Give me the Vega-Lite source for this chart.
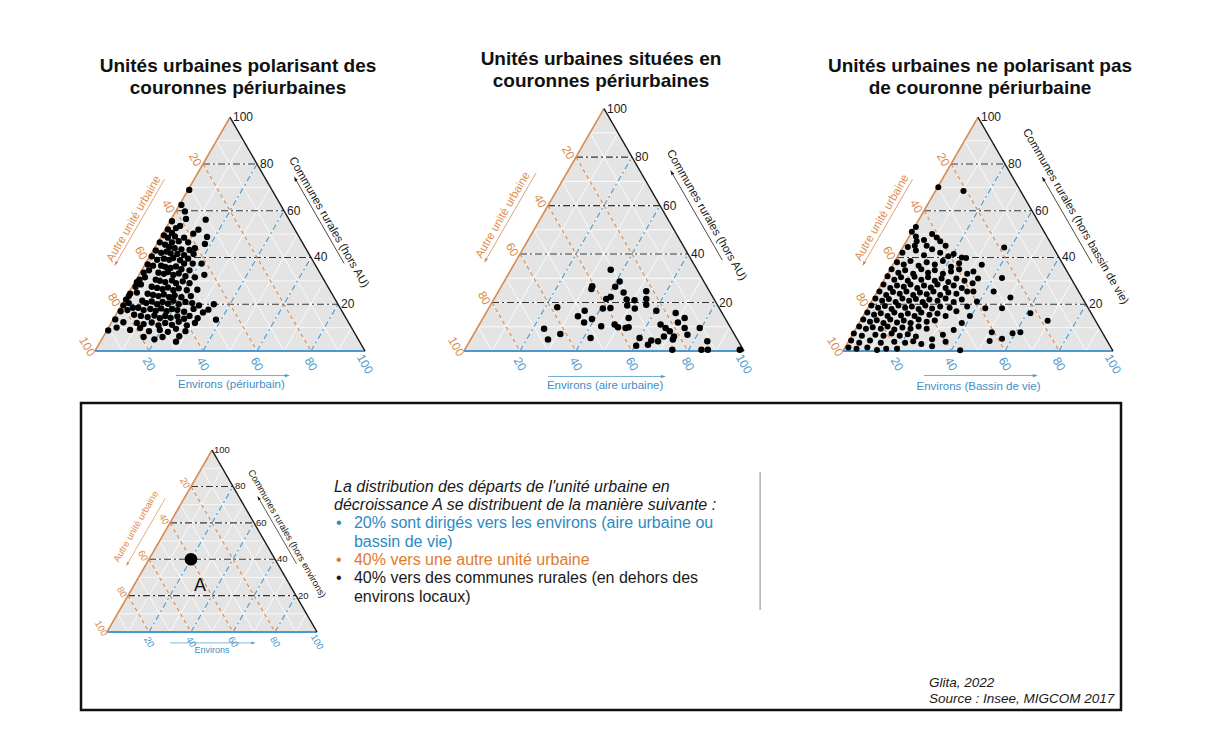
{
  "$schema": "https://vega.github.io/schema/vega-lite/v6.json",
  "background": "white",
  "autosize": {"type": "pad"},
  "padding": {"left": 77, "top": 49, "right": 5, "bottom": 5},
  "config": {
    "font": "Liberation Sans",
    "view": {"stroke": null},
    "axis": {"disable": true},
    "legend": {"disable": true},
    "title": {"fontSize": 19, "fontWeight": "bold", "color": "#111111", "anchor": "middle", "frame": "group", "lineHeight": 22, "offset": 12}
  },
  "datasets": {
    "tri": [{"x": 0, "y": 0}, {"x": 50, "y": 100}, {"x": 100, "y": 0}],
    "lines": [
      {"k": "sub", "x": 5, "y": 10, "x2": 95, "y2": 10},
      {"k": "sub", "x": 10, "y": 20, "x2": 90, "y2": 20},
      {"k": "sub", "x": 15, "y": 30, "x2": 85, "y2": 30},
      {"k": "sub", "x": 20, "y": 40, "x2": 80, "y2": 40},
      {"k": "sub", "x": 25, "y": 50, "x2": 75, "y2": 50},
      {"k": "sub", "x": 30, "y": 60, "x2": 70, "y2": 60},
      {"k": "sub", "x": 35, "y": 70, "x2": 65, "y2": 70},
      {"k": "sub", "x": 40, "y": 80, "x2": 60, "y2": 80},
      {"k": "sub", "x": 45, "y": 90, "x2": 55, "y2": 90},
      {"k": "sub", "x": 5, "y": 10, "x2": 10, "y2": 0},
      {"k": "sub", "x": 10, "y": 20, "x2": 20, "y2": 0},
      {"k": "sub", "x": 15, "y": 30, "x2": 30, "y2": 0},
      {"k": "sub", "x": 20, "y": 40, "x2": 40, "y2": 0},
      {"k": "sub", "x": 25, "y": 50, "x2": 50, "y2": 0},
      {"k": "sub", "x": 30, "y": 60, "x2": 60, "y2": 0},
      {"k": "sub", "x": 35, "y": 70, "x2": 70, "y2": 0},
      {"k": "sub", "x": 40, "y": 80, "x2": 80, "y2": 0},
      {"k": "sub", "x": 45, "y": 90, "x2": 90, "y2": 0},
      {"k": "sub", "x": 10, "y": 0, "x2": 55, "y2": 90},
      {"k": "sub", "x": 20, "y": 0, "x2": 60, "y2": 80},
      {"k": "sub", "x": 30, "y": 0, "x2": 65, "y2": 70},
      {"k": "sub", "x": 40, "y": 0, "x2": 70, "y2": 60},
      {"k": "sub", "x": 50, "y": 0, "x2": 75, "y2": 50},
      {"k": "sub", "x": 60, "y": 0, "x2": 80, "y2": 40},
      {"k": "sub", "x": 70, "y": 0, "x2": 85, "y2": 30},
      {"k": "sub", "x": 80, "y": 0, "x2": 90, "y2": 20},
      {"k": "sub", "x": 90, "y": 0, "x2": 95, "y2": 10},
      {"k": "r", "x": 10, "y": 20, "x2": 90, "y2": 20},
      {"k": "r", "x": 20, "y": 40, "x2": 80, "y2": 40},
      {"k": "r", "x": 30, "y": 60, "x2": 70, "y2": 60},
      {"k": "r", "x": 40, "y": 80, "x2": 60, "y2": 80},
      {"k": "a", "x": 40, "y": 80, "x2": 80, "y2": 0},
      {"k": "a", "x": 30, "y": 60, "x2": 60, "y2": 0},
      {"k": "a", "x": 20, "y": 40, "x2": 40, "y2": 0},
      {"k": "a", "x": 10, "y": 20, "x2": 20, "y2": 0},
      {"k": "e", "x": 20, "y": 0, "x2": 60, "y2": 80},
      {"k": "e", "x": 40, "y": 0, "x2": 70, "y2": 60},
      {"k": "e", "x": 60, "y": 0, "x2": 80, "y2": 40},
      {"k": "e", "x": 80, "y": 0, "x2": 90, "y2": 20},
      {"k": "L", "x": 0, "y": 0, "x2": 50, "y2": 100},
      {"k": "B", "x": 0, "y": 0, "x2": 100, "y2": 0},
      {"k": "R", "x": 50, "y": 100, "x2": 100, "y2": 0}
    ],
    "ticks": [
      {"k": "R", "x": 50, "y": 100, "t": "100"},
      {"k": "R", "x": 60, "y": 80, "t": "80"},
      {"k": "R", "x": 70, "y": 60, "t": "60"},
      {"k": "R", "x": 80, "y": 40, "t": "40"},
      {"k": "R", "x": 90, "y": 20, "t": "20"},
      {"k": "L", "x": 40, "y": 80, "t": "20"},
      {"k": "L", "x": 30, "y": 60, "t": "40"},
      {"k": "L", "x": 20, "y": 40, "t": "60"},
      {"k": "L", "x": 10, "y": 20, "t": "80"},
      {"k": "L", "x": 0, "y": 0, "t": "100"},
      {"k": "B", "x": 20, "y": 0, "t": "20"},
      {"k": "B", "x": 40, "y": 0, "t": "40"},
      {"k": "B", "x": 60, "y": 0, "t": "60"},
      {"k": "B", "x": 80, "y": 0, "t": "80"},
      {"k": "B", "x": 100, "y": 0, "t": "100"}
    ],
    "axt": [
      {"p": "p1", "k": "R", "x": 86.5, "y": 55, "t": "Communes rurales (hors AU)"},
      {"p": "p1", "k": "L", "x": 14.5, "y": 56.5, "t": "Autre unité urbaine"},
      {"p": "p1", "k": "B", "x": 50.5, "y": -14.5, "t": "Environs (périurbain)"},
      {"p": "p2", "k": "R", "x": 86.5, "y": 56, "t": "Communes rurales (hors AU)"},
      {"p": "p2", "k": "L", "x": 14, "y": 56, "t": "Autre unité urbaine"},
      {"p": "p2", "k": "B", "x": 50.4, "y": -14.4, "t": "Environs (aire urbaine)"},
      {"p": "p3", "k": "R", "x": 86, "y": 57.5, "t": "Communes rurales (hors bassin de vie)"},
      {"p": "p3", "k": "L", "x": 14.5, "y": 57, "t": "Autre unité urbaine"},
      {"p": "p3", "k": "B", "x": 50.2, "y": -15.5, "t": "Environs (Bassin de vie)"},
      {"p": "p4", "k": "R", "x": 85.7, "y": 54, "t": "Communes rurales (hors environs)"},
      {"p": "p4", "k": "L", "x": 13.8, "y": 58, "t": "Autre unité urbaine"},
      {"p": "p4", "k": "B", "x": 50, "y": -10, "t": "Environs"}
    ],
    "arr": [
      {"p": "p1", "k": "L", "x": 7.75, "y": 37.5, "x2": 25.75, "y2": 73.5},
      {"p": "p1", "k": "B", "x": 71, "y": -10.5, "x2": 30, "y2": -10.5},
      {"p": "p1", "k": "R", "x": 74.25, "y": 73.5, "x2": 92.25, "y2": 37.5},
      {"p": "p2", "k": "L", "x": 7.75, "y": 37.5, "x2": 25.75, "y2": 73.5},
      {"p": "p2", "k": "B", "x": 71, "y": -10.5, "x2": 30, "y2": -10.5},
      {"p": "p2", "k": "R", "x": 74.25, "y": 73.5, "x2": 92.25, "y2": 37.5},
      {"p": "p3", "k": "L", "x": 7.75, "y": 37.5, "x2": 25.75, "y2": 73.5},
      {"p": "p3", "k": "B", "x": 71, "y": -10.5, "x2": 30, "y2": -10.5},
      {"p": "p3", "k": "R", "x": 74.25, "y": 73.5, "x2": 92.25, "y2": 37.5},
      {"p": "p4", "k": "L", "x": 9.75, "y": 37.5, "x2": 27.75, "y2": 73.5},
      {"p": "p4", "k": "B", "x": 69.5, "y": -6, "x2": 30, "y2": -6},
      {"p": "p4", "k": "R", "x": 72.25, "y": 73.5, "x2": 90.25, "y2": 37.5}
    ],
    "p1": [
      {"x": 34.9, "y": 68.9}, {"x": 32.0, "y": 62.5}, {"x": 33.3, "y": 59.7}, {"x": 33.7, "y": 56.5}, {"x": 41.0, "y": 56.2},
      {"x": 28.5, "y": 55.5}, {"x": 30.0, "y": 52.6}, {"x": 31.5, "y": 53.5}, {"x": 38.3, "y": 51.9}, {"x": 36.4, "y": 50.2},
      {"x": 27.0, "y": 52.0}, {"x": 28.5, "y": 50.5}, {"x": 29.6, "y": 49.0}, {"x": 33.0, "y": 48.5}, {"x": 41.5, "y": 48.8},
      {"x": 25.5, "y": 49.5}, {"x": 27.0, "y": 48.5}, {"x": 28.5, "y": 46.5}, {"x": 31.0, "y": 47.0}, {"x": 34.5, "y": 46.5},
      {"x": 40.7, "y": 45.8}, {"x": 37.0, "y": 44.0}, {"x": 24.0, "y": 46.5}, {"x": 26.0, "y": 45.5}, {"x": 27.5, "y": 44.5},
      {"x": 29.5, "y": 44.0}, {"x": 32.0, "y": 43.5}, {"x": 35.0, "y": 43.2}, {"x": 22.5, "y": 43.0}, {"x": 24.5, "y": 42.0},
      {"x": 26.5, "y": 42.5}, {"x": 28.0, "y": 41.8}, {"x": 30.5, "y": 41.5}, {"x": 33.0, "y": 41.0}, {"x": 36.5, "y": 41.5},
      {"x": 21.0, "y": 40.5}, {"x": 23.0, "y": 39.0}, {"x": 25.5, "y": 39.5}, {"x": 27.5, "y": 39.0}, {"x": 29.0, "y": 39.8},
      {"x": 31.5, "y": 38.8}, {"x": 34.5, "y": 39.5}, {"x": 33.0, "y": 37.4}, {"x": 36.2, "y": 37.4}, {"x": 39.5, "y": 37.4},
      {"x": 19.5, "y": 37.0}, {"x": 21.5, "y": 36.5}, {"x": 24.5, "y": 36.5}, {"x": 26.0, "y": 36.0}, {"x": 28.0, "y": 35.5},
      {"x": 30.0, "y": 36.2}, {"x": 32.0, "y": 35.0}, {"x": 35.0, "y": 34.5}, {"x": 18.0, "y": 33.5}, {"x": 20.0, "y": 34.5},
      {"x": 23.5, "y": 33.5}, {"x": 25.5, "y": 33.0}, {"x": 27.0, "y": 33.8}, {"x": 29.0, "y": 32.5}, {"x": 31.0, "y": 33.2},
      {"x": 33.5, "y": 32.0}, {"x": 37.0, "y": 31.5}, {"x": 40.5, "y": 32.6}, {"x": 16.5, "y": 30.5}, {"x": 18.5, "y": 31.5},
      {"x": 22.5, "y": 30.5}, {"x": 24.0, "y": 30.0}, {"x": 26.0, "y": 29.5}, {"x": 28.5, "y": 30.2}, {"x": 30.0, "y": 29.0},
      {"x": 32.5, "y": 29.8}, {"x": 35.0, "y": 29.0}, {"x": 15.0, "y": 27.5}, {"x": 17.0, "y": 28.5}, {"x": 21.0, "y": 27.5},
      {"x": 23.0, "y": 27.0}, {"x": 25.0, "y": 26.5}, {"x": 27.0, "y": 27.2}, {"x": 29.0, "y": 26.0}, {"x": 31.0, "y": 26.8},
      {"x": 34.0, "y": 26.0}, {"x": 37.9, "y": 26.2}, {"x": 13.0, "y": 24.5}, {"x": 15.5, "y": 25.0}, {"x": 19.5, "y": 24.5},
      {"x": 21.5, "y": 24.0}, {"x": 23.5, "y": 23.5}, {"x": 25.5, "y": 24.2}, {"x": 27.5, "y": 23.0}, {"x": 29.5, "y": 23.8},
      {"x": 32.0, "y": 23.0}, {"x": 35.5, "y": 23.5}, {"x": 10.5, "y": 19.5}, {"x": 12.5, "y": 20.5}, {"x": 17.5, "y": 21.5},
      {"x": 19.0, "y": 20.5}, {"x": 21.0, "y": 21.2}, {"x": 23.0, "y": 20.0}, {"x": 25.0, "y": 21.0}, {"x": 27.0, "y": 20.2},
      {"x": 29.0, "y": 21.5}, {"x": 31.0, "y": 20.0}, {"x": 33.5, "y": 21.0}, {"x": 36.0, "y": 20.5}, {"x": 38.5, "y": 19.5},
      {"x": 44.0, "y": 20.0}, {"x": 12.0, "y": 17.5}, {"x": 14.0, "y": 18.5}, {"x": 16.0, "y": 18.5}, {"x": 18.0, "y": 17.5},
      {"x": 20.5, "y": 18.0}, {"x": 22.5, "y": 17.2}, {"x": 24.5, "y": 18.2}, {"x": 26.5, "y": 17.0}, {"x": 28.5, "y": 18.0},
      {"x": 30.5, "y": 17.5}, {"x": 33.0, "y": 16.8}, {"x": 36.5, "y": 18.0}, {"x": 40.0, "y": 16.5}, {"x": 42.0, "y": 17.7},
      {"x": 14.5, "y": 15.5}, {"x": 17.0, "y": 15.0}, {"x": 19.5, "y": 14.5}, {"x": 22.0, "y": 15.2}, {"x": 24.0, "y": 14.0},
      {"x": 26.0, "y": 15.0}, {"x": 28.0, "y": 14.2}, {"x": 30.5, "y": 14.8}, {"x": 33.0, "y": 13.8}, {"x": 35.0, "y": 15.0},
      {"x": 38.0, "y": 14.0}, {"x": 44.8, "y": 13.4}, {"x": 10.5, "y": 12.3}, {"x": 15.5, "y": 12.0}, {"x": 18.0, "y": 11.5},
      {"x": 21.0, "y": 12.2}, {"x": 23.5, "y": 11.0}, {"x": 26.0, "y": 12.0}, {"x": 28.5, "y": 11.2}, {"x": 31.0, "y": 12.5},
      {"x": 34.0, "y": 11.0}, {"x": 37.0, "y": 12.0}, {"x": 4.9, "y": 8.8}, {"x": 16.7, "y": 9.8}, {"x": 20.0, "y": 8.5},
      {"x": 24.0, "y": 9.0}, {"x": 27.0, "y": 8.2}, {"x": 30.0, "y": 9.5}, {"x": 33.5, "y": 8.5}, {"x": 25.0, "y": 6.0},
      {"x": 31.2, "y": 6.3}, {"x": 30.0, "y": 4.0}, {"x": 22.0, "y": 5.0}, {"x": 18.0, "y": 6.0}, {"x": 13.0, "y": 9.0},
      {"x": 8.0, "y": 10.0}, {"x": 7.5, "y": 13.5}, {"x": 9.5, "y": 17.0}, {"x": 11.5, "y": 22.0}, {"x": 12.5, "y": 23.5},
      {"x": 15.5, "y": 29.5}
    ],
    "p2": [
      {"x": 52.4, "y": 33.5}, {"x": 55.6, "y": 28.7}, {"x": 45.8, "y": 26.7}, {"x": 45.5, "y": 25.6}, {"x": 33.3, "y": 18.0},
      {"x": 28.6, "y": 9.2}, {"x": 30.0, "y": 4.7}, {"x": 34.4, "y": 7.0}, {"x": 40.7, "y": 14.3}, {"x": 43.1, "y": 16.6},
      {"x": 45.7, "y": 13.2}, {"x": 42.9, "y": 11.8}, {"x": 45.2, "y": 5.4}, {"x": 49.0, "y": 10.2}, {"x": 49.6, "y": 17.5},
      {"x": 52.3, "y": 17.7}, {"x": 52.4, "y": 22.3}, {"x": 50.8, "y": 21.4}, {"x": 53.8, "y": 10.9}, {"x": 55.0, "y": 9.8},
      {"x": 57.0, "y": 24.1}, {"x": 58.1, "y": 21.2}, {"x": 58.3, "y": 18.8}, {"x": 58.8, "y": 13.6}, {"x": 58.8, "y": 9.8},
      {"x": 61.0, "y": 17.5}, {"x": 57.7, "y": 9.5}, {"x": 65.1, "y": 24.6}, {"x": 65.1, "y": 21.4}, {"x": 65.1, "y": 19.1},
      {"x": 68.7, "y": 16.6}, {"x": 70.2, "y": 10.9}, {"x": 72.0, "y": 9.5}, {"x": 73.5, "y": 8.1}, {"x": 74.6, "y": 4.7},
      {"x": 75.6, "y": 15.7}, {"x": 78.8, "y": 13.6}, {"x": 76.4, "y": 11.8}, {"x": 78.8, "y": 9.5}, {"x": 79.8, "y": 6.7},
      {"x": 84.2, "y": 9.5}, {"x": 86.9, "y": 4.0}, {"x": 84.8, "y": 0.5}, {"x": 87.1, "y": 0.5}, {"x": 74.4, "y": 0.5},
      {"x": 66.9, "y": 4.3}, {"x": 65.7, "y": 2.6}, {"x": 62.7, "y": 5.4}, {"x": 61.5, "y": 2.2}, {"x": 69.3, "y": 4.0},
      {"x": 71.4, "y": 6.0}, {"x": 75.0, "y": 6.0}, {"x": 98.5, "y": 0.5}, {"x": 60.9, "y": 20.9}, {"x": 54.0, "y": 26.5}
    ],
    "p3": [
      {"x": 35.3, "y": 70.1}, {"x": 44.6, "y": 68.4}, {"x": 34.7, "y": 48.6}, {"x": 27.3, "y": 46.9}, {"x": 26.6, "y": 45.0},
      {"x": 59.7, "y": 44.3}, {"x": 45.6, "y": 39.8}, {"x": 51.4, "y": 36.9}, {"x": 48.3, "y": 34.0}, {"x": 58.9, "y": 31.2},
      {"x": 55.8, "y": 25.5}, {"x": 62.0, "y": 22.9}, {"x": 75.8, "y": 12.9}, {"x": 69.4, "y": 16.2}, {"x": 58.9, "y": 18.3},
      {"x": 58.9, "y": 5.2}, {"x": 62.8, "y": 7.6}, {"x": 65.7, "y": 8.0}, {"x": 55.1, "y": 8.0}, {"x": 54.3, "y": 4.3},
      {"x": 49.6, "y": 21.2}, {"x": 48.3, "y": 25.5}, {"x": 52.7, "y": 18.3}, {"x": 43.4, "y": 0.3}, {"x": 12.6, "y": 0.4},
      {"x": 25.5, "y": 51.0}, {"x": 27.0, "y": 49.0}, {"x": 30.0, "y": 47.5}, {"x": 33.0, "y": 50.0}, {"x": 27.0, "y": 53.0},
      {"x": 22.0, "y": 42.0}, {"x": 24.0, "y": 44.5}, {"x": 27.0, "y": 43.0}, {"x": 30.0, "y": 41.0}, {"x": 33.0, "y": 43.5},
      {"x": 36.0, "y": 42.0}, {"x": 39.0, "y": 40.5}, {"x": 41.0, "y": 41.5}, {"x": 20.0, "y": 38.0}, {"x": 22.5, "y": 37.0},
      {"x": 25.0, "y": 38.5}, {"x": 28.0, "y": 36.5}, {"x": 31.0, "y": 38.0}, {"x": 34.0, "y": 37.0}, {"x": 37.0, "y": 38.5},
      {"x": 40.0, "y": 36.0}, {"x": 43.0, "y": 37.5}, {"x": 18.0, "y": 35.0}, {"x": 20.5, "y": 33.5}, {"x": 23.0, "y": 34.5},
      {"x": 26.0, "y": 33.0}, {"x": 29.0, "y": 35.0}, {"x": 31.5, "y": 33.5}, {"x": 34.0, "y": 34.5}, {"x": 37.0, "y": 33.0},
      {"x": 40.0, "y": 34.0}, {"x": 43.0, "y": 35.0}, {"x": 46.0, "y": 33.0}, {"x": 16.5, "y": 32.0}, {"x": 19.0, "y": 30.5},
      {"x": 21.5, "y": 31.5}, {"x": 24.0, "y": 30.0}, {"x": 26.5, "y": 31.8}, {"x": 29.0, "y": 30.5}, {"x": 31.5, "y": 31.5},
      {"x": 34.0, "y": 30.0}, {"x": 36.5, "y": 31.0}, {"x": 39.0, "y": 29.5}, {"x": 42.0, "y": 31.0}, {"x": 45.0, "y": 30.0},
      {"x": 15.0, "y": 28.5}, {"x": 17.5, "y": 27.0}, {"x": 20.0, "y": 28.0}, {"x": 22.5, "y": 27.5}, {"x": 25.0, "y": 28.5},
      {"x": 27.5, "y": 27.0}, {"x": 30.0, "y": 28.0}, {"x": 32.5, "y": 27.2}, {"x": 35.0, "y": 28.5}, {"x": 38.0, "y": 27.0},
      {"x": 41.0, "y": 28.0}, {"x": 44.0, "y": 27.0}, {"x": 13.5, "y": 25.5}, {"x": 16.0, "y": 24.0}, {"x": 18.5, "y": 25.2},
      {"x": 21.0, "y": 24.5}, {"x": 23.5, "y": 25.5}, {"x": 26.0, "y": 24.0}, {"x": 28.5, "y": 25.0}, {"x": 31.0, "y": 24.3},
      {"x": 33.5, "y": 25.5}, {"x": 36.0, "y": 24.0}, {"x": 39.0, "y": 25.0}, {"x": 42.0, "y": 24.5}, {"x": 46.0, "y": 25.5},
      {"x": 12.0, "y": 22.5}, {"x": 14.5, "y": 21.5}, {"x": 17.0, "y": 22.2}, {"x": 19.5, "y": 21.0}, {"x": 22.0, "y": 22.5},
      {"x": 24.5, "y": 21.5}, {"x": 27.0, "y": 22.2}, {"x": 29.5, "y": 21.0}, {"x": 32.0, "y": 22.0}, {"x": 35.0, "y": 21.5},
      {"x": 38.0, "y": 22.5}, {"x": 41.0, "y": 21.0}, {"x": 44.0, "y": 22.0}, {"x": 10.5, "y": 19.5}, {"x": 13.0, "y": 18.5},
      {"x": 15.5, "y": 19.2}, {"x": 18.0, "y": 18.0}, {"x": 20.5, "y": 19.5}, {"x": 23.0, "y": 18.5}, {"x": 25.5, "y": 19.0},
      {"x": 28.0, "y": 18.0}, {"x": 30.5, "y": 19.5}, {"x": 33.0, "y": 18.2}, {"x": 36.0, "y": 19.0}, {"x": 39.5, "y": 18.5},
      {"x": 9.0, "y": 16.5}, {"x": 11.5, "y": 15.5}, {"x": 14.0, "y": 16.2}, {"x": 16.5, "y": 15.0}, {"x": 19.0, "y": 16.5},
      {"x": 21.5, "y": 15.2}, {"x": 24.0, "y": 16.0}, {"x": 26.5, "y": 15.0}, {"x": 29.0, "y": 16.5}, {"x": 32.0, "y": 15.5},
      {"x": 35.0, "y": 16.0}, {"x": 38.0, "y": 15.0}, {"x": 7.5, "y": 13.5}, {"x": 10.0, "y": 12.5}, {"x": 12.5, "y": 13.2},
      {"x": 15.0, "y": 12.0}, {"x": 17.5, "y": 13.5}, {"x": 20.0, "y": 12.2}, {"x": 22.5, "y": 13.0}, {"x": 25.0, "y": 12.0},
      {"x": 28.0, "y": 13.5}, {"x": 31.0, "y": 12.5}, {"x": 34.0, "y": 13.0}, {"x": 6.0, "y": 10.5}, {"x": 8.5, "y": 9.5},
      {"x": 11.0, "y": 10.2}, {"x": 14.0, "y": 9.5}, {"x": 16.5, "y": 10.5}, {"x": 19.0, "y": 9.2}, {"x": 22.0, "y": 10.0},
      {"x": 25.0, "y": 9.5}, {"x": 28.0, "y": 10.5}, {"x": 31.0, "y": 9.5}, {"x": 4.0, "y": 7.5}, {"x": 7.0, "y": 6.5},
      {"x": 12.0, "y": 7.0}, {"x": 15.0, "y": 6.5}, {"x": 18.0, "y": 7.5}, {"x": 21.0, "y": 6.5}, {"x": 24.0, "y": 7.2},
      {"x": 27.0, "y": 6.2}, {"x": 3.0, "y": 4.5}, {"x": 6.0, "y": 3.5}, {"x": 10.0, "y": 4.5}, {"x": 14.0, "y": 3.5},
      {"x": 19.0, "y": 4.0}, {"x": 23.0, "y": 3.5}, {"x": 26.0, "y": 4.2}, {"x": 44.0, "y": 12.0}, {"x": 41.0, "y": 9.0},
      {"x": 37.0, "y": 7.0}, {"x": 33.0, "y": 5.0}, {"x": 47.0, "y": 15.0}, {"x": 42.0, "y": 17.0}, {"x": 46.0, "y": 19.0},
      {"x": 48.0, "y": 29.0}, {"x": 50.0, "y": 31.0}, {"x": 44.0, "y": 40.0}, {"x": 38.0, "y": 45.0}, {"x": 31.0, "y": 45.0},
      {"x": 36.0, "y": 47.0}, {"x": 29.0, "y": 3.0}, {"x": 33.0, "y": 2.0}, {"x": 38.0, "y": 4.0}, {"x": 2.0, "y": 1.5},
      {"x": 5.0, "y": 1.0}, {"x": 9.0, "y": 1.5}, {"x": 16.0, "y": 1.0}, {"x": 20.0, "y": 1.0}
    ],
    "ptA": [{"x": 40, "y": 40, "lab": "A"}],
    "sep": [{"x": 311, "y": 88, "y2": 12.1}],
    "leg": [
      {"g": "i", "t": "La distribution des départs de l'unité urbaine en", "x": 108.1, "y": 79.7},
      {"g": "i", "t": "décroissance A se distribuent de la manière suivante :", "x": 108.1, "y": 69.8},
      {"g": "b", "t": "•", "x": 109, "y": 59.9},
      {"g": "b", "t": "20% sont dirigés vers les environs (aire urbaine ou", "x": 117.6, "y": 59.9},
      {"g": "b", "t": "bassin de vie)", "x": 117.6, "y": 49.5},
      {"g": "o", "t": "•", "x": 109, "y": 39.6},
      {"g": "o", "t": "40% vers une autre unité urbaine", "x": 117.6, "y": 39.6},
      {"g": "k", "t": "•", "x": 109, "y": 29.7},
      {"g": "k", "t": "40% vers des communes rurales (en dehors des", "x": 117.6, "y": 29.7},
      {"g": "k", "t": "environs locaux)", "x": 117.6, "y": 19.2},
      {"g": "c", "t": "Glita, 2022", "x": 391.4, "y": -28},
      {"g": "c", "t": "Source : Insee, MIGCOM 2017", "x": 391.4, "y": -36.8}
    ]
  },
  "spacing": 8,
  "vconcat": [
    {
      "hconcat": [
        {
          "width": 284,
          "height": 241,
          "title": {"text": ["Unités urbaines polarisant des", "couronnes périurbaines"], "dx": 15},
          "layer": [
            {"data": {"name": "tri"}, "mark": {"type": "area", "color": "#e4e4e4"}, "encoding": {"x": {"field": "x", "type": "quantitative", "axis": null, "scale": {"domain": [-5.19, 100], "nice": false, "zero": false}}, "y": {"field": "y", "type": "quantitative", "axis": null, "scale": {"domain": [0, 103.1], "nice": false, "zero": false}}, "y2": {"datum": 0}}},
            {"data": {"name": "lines"}, "mark": {"type": "rule"}, "encoding": {"x": {"field": "x", "type": "quantitative"}, "y": {"field": "y", "type": "quantitative"}, "x2": {"field": "x2"}, "y2": {"field": "y2"}, "color": {"field": "k", "type": "nominal", "legend": null, "scale": {"domain": ["sub", "r", "a", "e", "L", "B", "R"], "range": ["#ffffff", "#333333", "#d98a4e", "#4a98cc", "#d98a4e", "#4a98cc", "#1a1a1a"]}}, "strokeDash": {"field": "k", "type": "nominal", "legend": null, "scale": {"type": "ordinal", "domain": ["sub", "r", "a", "e", "L", "B", "R"], "range": [[1, 0], [7, 3, 2, 3], [4, 3], [6, 3, 2, 3], [1, 0], [1, 0], [1, 0]]}}, "strokeWidth": {"field": "k", "type": "nominal", "legend": null, "scale": {"type": "ordinal", "domain": ["sub", "r", "a", "e", "L", "B", "R"], "range": [0.9, 1.2, 1.1, 1.1, 1.6, 1.8, 1.4]}}}},
            {"data": {"name": "p1"}, "mark": {"type": "circle", "size": 40, "color": "#000000", "opacity": 1}, "encoding": {"x": {"field": "x", "type": "quantitative"}, "y": {"field": "y", "type": "quantitative"}}},
            {"data": {"name": "arr"}, "transform": [{"filter": "datum.p == 'p1'"}], "mark": {"type": "rule", "strokeWidth": 0.8}, "encoding": {"x": {"field": "x", "type": "quantitative"}, "y": {"field": "y", "type": "quantitative"}, "x2": {"field": "x2"}, "y2": {"field": "y2"}, "color": {"field": "k", "type": "nominal", "legend": null, "scale": {"domain": ["sub", "r", "a", "e", "L", "B", "R"], "range": ["#ffffff", "#333333", "#d98a4e", "#4a98cc", "#d98a4e", "#4a98cc", "#1a1a1a"]}}}},
            {"data": {"name": "arr"}, "transform": [{"filter": "datum.p == 'p1'"}], "mark": {"type": "point", "filled": true, "size": 40, "opacity": 1}, "encoding": {"x": {"field": "x", "type": "quantitative"}, "y": {"field": "y", "type": "quantitative"}, "color": {"field": "k", "type": "nominal", "legend": null, "scale": {"domain": ["sub", "r", "a", "e", "L", "B", "R"], "range": ["#ffffff", "#333333", "#d98a4e", "#4a98cc", "#d98a4e", "#4a98cc", "#1a1a1a"]}}, "shape": {"field": "k", "type": "nominal", "legend": null, "scale": {"domain": ["L", "B", "R"], "range": ["M-0.5,0.866L0.733,-0.27L-0.133,-0.77Z", "M1,0L-0.6,-0.5L-0.6,0.5Z", "M-0.5,-0.866L0.733,0.27L-0.133,0.77Z"]}}}},
            {"data": {"name": "ticks"}, "transform": [{"filter": "datum.k == 'R'"}], "mark": {"type": "text", "align": "left", "baseline": "middle", "dx": 3, "fontSize": 12, "color": "#1a1a1a"}, "encoding": {"x": {"field": "x", "type": "quantitative"}, "y": {"field": "y", "type": "quantitative"}, "text": {"field": "t"}}},
            {"data": {"name": "ticks"}, "transform": [{"filter": "datum.k == 'L'"}], "mark": {"type": "text", "align": "center", "baseline": "middle", "angle": 60, "radius": 9, "theta": -1.047, "fontSize": 12, "color": "#d98a4e"}, "encoding": {"x": {"field": "x", "type": "quantitative"}, "y": {"field": "y", "type": "quantitative"}, "text": {"field": "t"}}},
            {"data": {"name": "ticks"}, "transform": [{"filter": "datum.k == 'B'"}], "mark": {"type": "text", "align": "center", "baseline": "middle", "angle": 60, "radius": 13, "theta": 3.1416, "fontSize": 12, "color": "#4a98cc"}, "encoding": {"x": {"field": "x", "type": "quantitative"}, "y": {"field": "y", "type": "quantitative"}, "text": {"field": "t"}}},
            {"data": {"name": "axt"}, "transform": [{"filter": "datum.p == 'p1' && datum.k == 'R'"}], "mark": {"type": "text", "angle": 60, "align": "center", "baseline": "middle", "fontSize": 11.5, "color": "#1a1a1a"}, "encoding": {"x": {"field": "x", "type": "quantitative"}, "y": {"field": "y", "type": "quantitative"}, "text": {"field": "t"}}},
            {"data": {"name": "axt"}, "transform": [{"filter": "datum.p == 'p1' && datum.k == 'L'"}], "mark": {"type": "text", "angle": -60, "align": "center", "baseline": "middle", "fontSize": 11.5, "color": "#e08d4c"}, "encoding": {"x": {"field": "x", "type": "quantitative"}, "y": {"field": "y", "type": "quantitative"}, "text": {"field": "t"}}},
            {"data": {"name": "axt"}, "transform": [{"filter": "datum.p == 'p1' && datum.k == 'B'"}], "mark": {"type": "text", "align": "center", "baseline": "middle", "fontSize": 11.5, "color": "#3d8ec9"}, "encoding": {"x": {"field": "x", "type": "quantitative"}, "y": {"field": "y", "type": "quantitative"}, "text": {"field": "t"}}}
          ]
        },
        {
          "width": 280,
          "height": 241,
          "title": {"text": ["Unités urbaines situées en", "couronnes périurbaines"], "dx": -3},
          "layer": [
            {"data": {"name": "tri"}, "mark": {"type": "area", "color": "#e4e4e4"}, "encoding": {"x": {"field": "x", "type": "quantitative", "axis": null, "scale": {"domain": [0, 100], "nice": false, "zero": false}}, "y": {"field": "y", "type": "quantitative", "axis": null, "scale": {"domain": [0, 99.4], "nice": false, "zero": false}}, "y2": {"datum": 0}}},
            {"data": {"name": "lines"}, "mark": {"type": "rule"}, "encoding": {"x": {"field": "x", "type": "quantitative"}, "y": {"field": "y", "type": "quantitative"}, "x2": {"field": "x2"}, "y2": {"field": "y2"}, "color": {"field": "k", "type": "nominal", "legend": null, "scale": {"domain": ["sub", "r", "a", "e", "L", "B", "R"], "range": ["#ffffff", "#333333", "#d98a4e", "#4a98cc", "#d98a4e", "#4a98cc", "#1a1a1a"]}}, "strokeDash": {"field": "k", "type": "nominal", "legend": null, "scale": {"type": "ordinal", "domain": ["sub", "r", "a", "e", "L", "B", "R"], "range": [[1, 0], [7, 3, 2, 3], [4, 3], [6, 3, 2, 3], [1, 0], [1, 0], [1, 0]]}}, "strokeWidth": {"field": "k", "type": "nominal", "legend": null, "scale": {"type": "ordinal", "domain": ["sub", "r", "a", "e", "L", "B", "R"], "range": [0.9, 1.2, 1.1, 1.1, 1.6, 1.8, 1.4]}}}},
            {"data": {"name": "p2"}, "mark": {"type": "circle", "size": 42, "color": "#000000", "opacity": 1}, "encoding": {"x": {"field": "x", "type": "quantitative"}, "y": {"field": "y", "type": "quantitative"}}},
            {"data": {"name": "arr"}, "transform": [{"filter": "datum.p == 'p2'"}], "mark": {"type": "rule", "strokeWidth": 0.8}, "encoding": {"x": {"field": "x", "type": "quantitative"}, "y": {"field": "y", "type": "quantitative"}, "x2": {"field": "x2"}, "y2": {"field": "y2"}, "color": {"field": "k", "type": "nominal", "legend": null, "scale": {"domain": ["sub", "r", "a", "e", "L", "B", "R"], "range": ["#ffffff", "#333333", "#d98a4e", "#4a98cc", "#d98a4e", "#4a98cc", "#1a1a1a"]}}}},
            {"data": {"name": "arr"}, "transform": [{"filter": "datum.p == 'p2'"}], "mark": {"type": "point", "filled": true, "size": 40, "opacity": 1}, "encoding": {"x": {"field": "x", "type": "quantitative"}, "y": {"field": "y", "type": "quantitative"}, "color": {"field": "k", "type": "nominal", "legend": null, "scale": {"domain": ["sub", "r", "a", "e", "L", "B", "R"], "range": ["#ffffff", "#333333", "#d98a4e", "#4a98cc", "#d98a4e", "#4a98cc", "#1a1a1a"]}}, "shape": {"field": "k", "type": "nominal", "legend": null, "scale": {"domain": ["L", "B", "R"], "range": ["M-0.5,0.866L0.733,-0.27L-0.133,-0.77Z", "M1,0L-0.6,-0.5L-0.6,0.5Z", "M-0.5,-0.866L0.733,0.27L-0.133,0.77Z"]}}}},
            {"data": {"name": "ticks"}, "transform": [{"filter": "datum.k == 'R'"}], "mark": {"type": "text", "align": "left", "baseline": "middle", "dx": 3, "fontSize": 12, "color": "#1a1a1a"}, "encoding": {"x": {"field": "x", "type": "quantitative"}, "y": {"field": "y", "type": "quantitative"}, "text": {"field": "t"}}},
            {"data": {"name": "ticks"}, "transform": [{"filter": "datum.k == 'L'"}], "mark": {"type": "text", "align": "center", "baseline": "middle", "angle": 60, "radius": 9, "theta": -1.047, "fontSize": 12, "color": "#d98a4e"}, "encoding": {"x": {"field": "x", "type": "quantitative"}, "y": {"field": "y", "type": "quantitative"}, "text": {"field": "t"}}},
            {"data": {"name": "ticks"}, "transform": [{"filter": "datum.k == 'B'"}], "mark": {"type": "text", "align": "center", "baseline": "middle", "angle": 60, "radius": 13, "theta": 3.1416, "fontSize": 12, "color": "#4a98cc"}, "encoding": {"x": {"field": "x", "type": "quantitative"}, "y": {"field": "y", "type": "quantitative"}, "text": {"field": "t"}}},
            {"data": {"name": "axt"}, "transform": [{"filter": "datum.p == 'p2' && datum.k == 'R'"}], "mark": {"type": "text", "angle": 60, "align": "center", "baseline": "middle", "fontSize": 11.5, "color": "#1a1a1a"}, "encoding": {"x": {"field": "x", "type": "quantitative"}, "y": {"field": "y", "type": "quantitative"}, "text": {"field": "t"}}},
            {"data": {"name": "axt"}, "transform": [{"filter": "datum.p == 'p2' && datum.k == 'L'"}], "mark": {"type": "text", "angle": -60, "align": "center", "baseline": "middle", "fontSize": 11.5, "color": "#e08d4c"}, "encoding": {"x": {"field": "x", "type": "quantitative"}, "y": {"field": "y", "type": "quantitative"}, "text": {"field": "t"}}},
            {"data": {"name": "axt"}, "transform": [{"filter": "datum.p == 'p2' && datum.k == 'B'"}], "mark": {"type": "text", "align": "center", "baseline": "middle", "fontSize": 11.5, "color": "#3d8ec9"}, "encoding": {"x": {"field": "x", "type": "quantitative"}, "y": {"field": "y", "type": "quantitative"}, "text": {"field": "t"}}}
          ]
        },
        {
          "width": 270,
          "height": 241,
          "title": {"text": ["Unités urbaines ne polarisant pas", "de couronne périurbaine"], "dx": 2},
          "layer": [
            {"data": {"name": "tri"}, "mark": {"type": "area", "color": "#e4e4e4"}, "encoding": {"x": {"field": "x", "type": "quantitative", "axis": null, "scale": {"domain": [0, 100], "nice": false, "zero": false}}, "y": {"field": "y", "type": "quantitative", "axis": null, "scale": {"domain": [0, 103.1], "nice": false, "zero": false}}, "y2": {"datum": 0}}},
            {"data": {"name": "lines"}, "mark": {"type": "rule"}, "encoding": {"x": {"field": "x", "type": "quantitative"}, "y": {"field": "y", "type": "quantitative"}, "x2": {"field": "x2"}, "y2": {"field": "y2"}, "color": {"field": "k", "type": "nominal", "legend": null, "scale": {"domain": ["sub", "r", "a", "e", "L", "B", "R"], "range": ["#ffffff", "#333333", "#d98a4e", "#4a98cc", "#d98a4e", "#4a98cc", "#1a1a1a"]}}, "strokeDash": {"field": "k", "type": "nominal", "legend": null, "scale": {"type": "ordinal", "domain": ["sub", "r", "a", "e", "L", "B", "R"], "range": [[1, 0], [7, 3, 2, 3], [4, 3], [6, 3, 2, 3], [1, 0], [1, 0], [1, 0]]}}, "strokeWidth": {"field": "k", "type": "nominal", "legend": null, "scale": {"type": "ordinal", "domain": ["sub", "r", "a", "e", "L", "B", "R"], "range": [0.9, 1.2, 1.1, 1.1, 1.6, 1.8, 1.4]}}}},
            {"data": {"name": "p3"}, "mark": {"type": "circle", "size": 36, "color": "#000000", "opacity": 1}, "encoding": {"x": {"field": "x", "type": "quantitative"}, "y": {"field": "y", "type": "quantitative"}}},
            {"data": {"name": "arr"}, "transform": [{"filter": "datum.p == 'p3'"}], "mark": {"type": "rule", "strokeWidth": 0.8}, "encoding": {"x": {"field": "x", "type": "quantitative"}, "y": {"field": "y", "type": "quantitative"}, "x2": {"field": "x2"}, "y2": {"field": "y2"}, "color": {"field": "k", "type": "nominal", "legend": null, "scale": {"domain": ["sub", "r", "a", "e", "L", "B", "R"], "range": ["#ffffff", "#333333", "#d98a4e", "#4a98cc", "#d98a4e", "#4a98cc", "#1a1a1a"]}}}},
            {"data": {"name": "arr"}, "transform": [{"filter": "datum.p == 'p3'"}], "mark": {"type": "point", "filled": true, "size": 40, "opacity": 1}, "encoding": {"x": {"field": "x", "type": "quantitative"}, "y": {"field": "y", "type": "quantitative"}, "color": {"field": "k", "type": "nominal", "legend": null, "scale": {"domain": ["sub", "r", "a", "e", "L", "B", "R"], "range": ["#ffffff", "#333333", "#d98a4e", "#4a98cc", "#d98a4e", "#4a98cc", "#1a1a1a"]}}, "shape": {"field": "k", "type": "nominal", "legend": null, "scale": {"domain": ["L", "B", "R"], "range": ["M-0.5,0.866L0.733,-0.27L-0.133,-0.77Z", "M1,0L-0.6,-0.5L-0.6,0.5Z", "M-0.5,-0.866L0.733,0.27L-0.133,0.77Z"]}}}},
            {"data": {"name": "ticks"}, "transform": [{"filter": "datum.k == 'R'"}], "mark": {"type": "text", "align": "left", "baseline": "middle", "dx": 3, "fontSize": 12, "color": "#1a1a1a"}, "encoding": {"x": {"field": "x", "type": "quantitative"}, "y": {"field": "y", "type": "quantitative"}, "text": {"field": "t"}}},
            {"data": {"name": "ticks"}, "transform": [{"filter": "datum.k == 'L'"}], "mark": {"type": "text", "align": "center", "baseline": "middle", "angle": 60, "radius": 9, "theta": -1.047, "fontSize": 12, "color": "#d98a4e"}, "encoding": {"x": {"field": "x", "type": "quantitative"}, "y": {"field": "y", "type": "quantitative"}, "text": {"field": "t"}}},
            {"data": {"name": "ticks"}, "transform": [{"filter": "datum.k == 'B'"}], "mark": {"type": "text", "align": "center", "baseline": "middle", "angle": 60, "radius": 13, "theta": 3.1416, "fontSize": 12, "color": "#4a98cc"}, "encoding": {"x": {"field": "x", "type": "quantitative"}, "y": {"field": "y", "type": "quantitative"}, "text": {"field": "t"}}},
            {"data": {"name": "axt"}, "transform": [{"filter": "datum.p == 'p3' && datum.k == 'R'"}], "mark": {"type": "text", "angle": 60, "align": "center", "baseline": "middle", "fontSize": 11.5, "color": "#1a1a1a"}, "encoding": {"x": {"field": "x", "type": "quantitative"}, "y": {"field": "y", "type": "quantitative"}, "text": {"field": "t"}}},
            {"data": {"name": "axt"}, "transform": [{"filter": "datum.p == 'p3' && datum.k == 'L'"}], "mark": {"type": "text", "angle": -60, "align": "center", "baseline": "middle", "fontSize": 11.5, "color": "#e08d4c"}, "encoding": {"x": {"field": "x", "type": "quantitative"}, "y": {"field": "y", "type": "quantitative"}, "text": {"field": "t"}}},
            {"data": {"name": "axt"}, "transform": [{"filter": "datum.p == 'p3' && datum.k == 'B'"}], "mark": {"type": "text", "align": "center", "baseline": "middle", "fontSize": 11.5, "color": "#3d8ec9"}, "encoding": {"x": {"field": "x", "type": "quantitative"}, "y": {"field": "y", "type": "quantitative"}, "text": {"field": "t"}}}
          ]
        }
      ],
      "spacing": 99,
      "bounds": "flush"
    },
    {
      "width": 1040,
      "height": 307,
      "view": {"stroke": "#111111", "strokeWidth": 2.5},
      "layer": [
        {"data": {"name": "tri"}, "mark": {"type": "area", "color": "#e4e4e4"}, "encoding": {"x": {"field": "x", "type": "quantitative", "axis": null, "scale": {"domain": [-12.38, 482.86], "nice": false, "zero": false}}, "y": {"field": "y", "type": "quantitative", "axis": null, "scale": {"domain": [-42.9, 125.9], "nice": false, "zero": false}}, "y2": {"datum": 0}}},
        {"data": {"name": "lines"}, "mark": {"type": "rule"}, "encoding": {"x": {"field": "x", "type": "quantitative"}, "y": {"field": "y", "type": "quantitative"}, "x2": {"field": "x2"}, "y2": {"field": "y2"}, "color": {"field": "k", "type": "nominal", "legend": null, "scale": {"domain": ["sub", "r", "a", "e", "L", "B", "R"], "range": ["#ffffff", "#333333", "#d98a4e", "#4a98cc", "#d98a4e", "#4a98cc", "#1a1a1a"]}}, "strokeDash": {"field": "k", "type": "nominal", "legend": null, "scale": {"type": "ordinal", "domain": ["sub", "r", "a", "e", "L", "B", "R"], "range": [[1, 0], [6, 3, 2, 3], [4, 3], [5, 3, 2, 3], [1, 0], [1, 0], [1, 0]]}}, "strokeWidth": {"field": "k", "type": "nominal", "legend": null, "scale": {"type": "ordinal", "domain": ["sub", "r", "a", "e", "L", "B", "R"], "range": [0.8, 1.1, 1, 1, 1.4, 1.5, 1.2]}}}},
        {"data": {"name": "ptA"}, "mark": {"type": "circle", "size": 160, "color": "#000000", "opacity": 1}, "encoding": {"x": {"field": "x", "type": "quantitative"}, "y": {"field": "y", "type": "quantitative"}}},
        {"data": {"name": "ptA"}, "mark": {"type": "text", "dx": 9, "dy": 27, "fontSize": 18, "color": "#111111", "align": "center", "baseline": "middle"}, "encoding": {"x": {"field": "x", "type": "quantitative"}, "y": {"field": "y", "type": "quantitative"}, "text": {"field": "lab"}}},
        {"data": {"name": "arr"}, "transform": [{"filter": "datum.p == 'p4'"}], "mark": {"type": "rule", "strokeWidth": 0.7}, "encoding": {"x": {"field": "x", "type": "quantitative"}, "y": {"field": "y", "type": "quantitative"}, "x2": {"field": "x2"}, "y2": {"field": "y2"}, "color": {"field": "k", "type": "nominal", "legend": null, "scale": {"domain": ["sub", "r", "a", "e", "L", "B", "R"], "range": ["#ffffff", "#333333", "#d98a4e", "#4a98cc", "#d98a4e", "#4a98cc", "#1a1a1a"]}}}},
        {"data": {"name": "arr"}, "transform": [{"filter": "datum.p == 'p4'"}], "mark": {"type": "point", "filled": true, "size": 30, "opacity": 1}, "encoding": {"x": {"field": "x", "type": "quantitative"}, "y": {"field": "y", "type": "quantitative"}, "color": {"field": "k", "type": "nominal", "legend": null, "scale": {"domain": ["sub", "r", "a", "e", "L", "B", "R"], "range": ["#ffffff", "#333333", "#d98a4e", "#4a98cc", "#d98a4e", "#4a98cc", "#1a1a1a"]}}, "shape": {"field": "k", "type": "nominal", "legend": null, "scale": {"domain": ["L", "B", "R"], "range": ["M-0.5,0.866L0.733,-0.27L-0.133,-0.77Z", "M1,0L-0.6,-0.5L-0.6,0.5Z", "M-0.5,-0.866L0.733,0.27L-0.133,0.77Z"]}}}},
        {"data": {"name": "ticks"}, "transform": [{"filter": "datum.k == 'R'"}], "mark": {"type": "text", "align": "left", "baseline": "middle", "dx": 2, "fontSize": 9.5, "color": "#1a1a1a"}, "encoding": {"x": {"field": "x", "type": "quantitative"}, "y": {"field": "y", "type": "quantitative"}, "text": {"field": "t"}}},
        {"data": {"name": "ticks"}, "transform": [{"filter": "datum.k == 'L'"}], "mark": {"type": "text", "align": "center", "baseline": "middle", "angle": 60, "radius": 7, "theta": -1.047, "fontSize": 9.5, "color": "#d98a4e"}, "encoding": {"x": {"field": "x", "type": "quantitative"}, "y": {"field": "y", "type": "quantitative"}, "text": {"field": "t"}}},
        {"data": {"name": "ticks"}, "transform": [{"filter": "datum.k == 'B'"}], "mark": {"type": "text", "align": "center", "baseline": "middle", "angle": 60, "radius": 10, "theta": 3.1416, "fontSize": 9.5, "color": "#4a98cc"}, "encoding": {"x": {"field": "x", "type": "quantitative"}, "y": {"field": "y", "type": "quantitative"}, "text": {"field": "t"}}},
        {"data": {"name": "axt"}, "transform": [{"filter": "datum.p == 'p4' && datum.k == 'R'"}], "mark": {"type": "text", "angle": 60, "align": "center", "baseline": "middle", "fontSize": 9.5, "color": "#1a1a1a"}, "encoding": {"x": {"field": "x", "type": "quantitative"}, "y": {"field": "y", "type": "quantitative"}, "text": {"field": "t"}}},
        {"data": {"name": "axt"}, "transform": [{"filter": "datum.p == 'p4' && datum.k == 'L'"}], "mark": {"type": "text", "angle": -60, "align": "center", "baseline": "middle", "fontSize": 9.5, "color": "#e08d4c"}, "encoding": {"x": {"field": "x", "type": "quantitative"}, "y": {"field": "y", "type": "quantitative"}, "text": {"field": "t"}}},
        {"data": {"name": "axt"}, "transform": [{"filter": "datum.p == 'p4' && datum.k == 'B'"}], "mark": {"type": "text", "align": "center", "baseline": "middle", "fontSize": 9, "color": "#3d8ec9"}, "encoding": {"x": {"field": "x", "type": "quantitative"}, "y": {"field": "y", "type": "quantitative"}, "text": {"field": "t"}}},
        {"data": {"name": "sep"}, "mark": {"type": "rule", "color": "#9a9a9a", "strokeWidth": 1.2}, "encoding": {"x": {"field": "x", "type": "quantitative"}, "y": {"field": "y", "type": "quantitative"}, "y2": {"field": "y2"}}},
        {"data": {"name": "leg"}, "transform": [{"filter": "datum.g == 'i'"}], "mark": {"type": "text", "align": "left", "baseline": "middle", "fontSize": 16, "fontStyle": "italic", "color": "#1a1a1a"}, "encoding": {"x": {"field": "x", "type": "quantitative"}, "y": {"field": "y", "type": "quantitative"}, "text": {"field": "t"}}},
        {"data": {"name": "leg"}, "transform": [{"filter": "datum.g == 'b'"}], "mark": {"type": "text", "align": "left", "baseline": "middle", "fontSize": 16, "color": "#2b8bc3"}, "encoding": {"x": {"field": "x", "type": "quantitative"}, "y": {"field": "y", "type": "quantitative"}, "text": {"field": "t"}}},
        {"data": {"name": "leg"}, "transform": [{"filter": "datum.g == 'o'"}], "mark": {"type": "text", "align": "left", "baseline": "middle", "fontSize": 16, "color": "#e07b2c"}, "encoding": {"x": {"field": "x", "type": "quantitative"}, "y": {"field": "y", "type": "quantitative"}, "text": {"field": "t"}}},
        {"data": {"name": "leg"}, "transform": [{"filter": "datum.g == 'k'"}], "mark": {"type": "text", "align": "left", "baseline": "middle", "fontSize": 16, "color": "#1a1a1a"}, "encoding": {"x": {"field": "x", "type": "quantitative"}, "y": {"field": "y", "type": "quantitative"}, "text": {"field": "t"}}},
        {"data": {"name": "leg"}, "transform": [{"filter": "datum.g == 'c'"}], "mark": {"type": "text", "align": "left", "baseline": "middle", "fontSize": 13.5, "fontStyle": "italic", "color": "#1a1a1a"}, "encoding": {"x": {"field": "x", "type": "quantitative"}, "y": {"field": "y", "type": "quantitative"}, "text": {"field": "t"}}}
      ]
    }
  ]
}
